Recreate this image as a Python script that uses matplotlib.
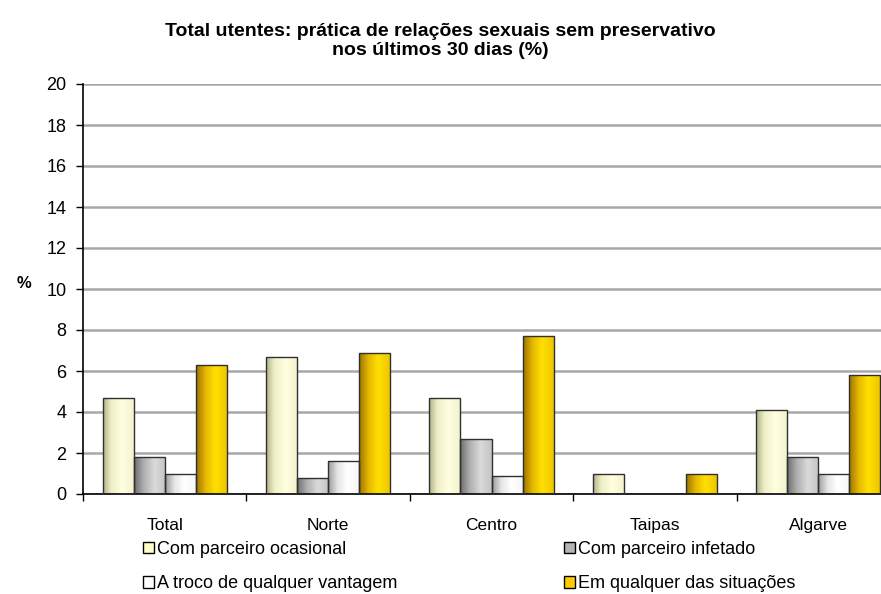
import matplotlib
matplotlib.use("Agg")
import matplotlib.pyplot as plt
import numpy as np
from matplotlib.colors import LinearSegmentedColormap
from matplotlib.patches import Patch

plt.rcParams['font.family'] = ['Liberation Sans', 'DejaVu Sans']

categories = ["Total", "Norte", "Centro", "Taipas", "Algarve"]
series_names = ["Com parceiro ocasional", "Com parceiro infetado",
                "A troco de qualquer vantagem", "Em qualquer das situações"]
ocasional = [4.7, 6.7, 4.7, 1.0, 4.1]
infetado = [1.8, 0.8, 2.7, 0.0, 1.8]
vantagem = [1.0, 1.6, 0.9, 0.0, 1.0]
situacoes = [6.3, 6.9, 7.7, 1.0, 5.8]
series_values = [ocasional, infetado, vantagem, situacoes]
y_ticks = [0, 2, 4, 6, 8, 10, 12, 14, 16, 18, 20]

legend_colors = ["#FFFFCC", "#B4B4B4", "#FFFFFF", "#FFCC00"]
gradients = [
    [(0, "#B0B08A"), (0.25, "#EEEEC6"), (0.6, "#FFFFE2"), (1, "#F2F2CE")],
    [(0, "#6E6E6E"), (0.3, "#AEAEAE"), (0.65, "#DADADA"), (1, "#C4C4C4")],
    [(0, "#9C9C9C"), (0.3, "#E6E6E6"), (0.6, "#FFFFFF"), (1, "#F6F6F6")],
    [(0, "#9C7400"), (0.3, "#E6B800"), (0.6, "#FFE000"), (1, "#EEC400")],
]

fig = plt.figure(figsize=(8.81, 5.94), dpi=100)
ax = fig.add_axes([83 / 881, 1 - 494 / 594, 817 / 881, 410 / 594])

n = len(categories)
x = np.arange(n)
bw = 0.19
offsets = (np.arange(4) - 1.5) * bw

ax.set_axisbelow(True)
ax.yaxis.grid(True, color="#A8A8A8", linewidth=1.8)

for i, vals in enumerate(series_values):
    bars = ax.bar(x + offsets[i], vals, width=bw, facecolor="none",
                  edgecolor="#303030", linewidth=1.0, zorder=3)
    cmap = LinearSegmentedColormap.from_list("g%d" % i, gradients[i])
    grad = np.linspace(0, 1, 64).reshape(1, -1)
    for p in bars.patches:
        h = p.get_height()
        if h <= 0:
            p.set_visible(False)
            continue
        x0 = p.get_x()
        w = p.get_width()
        im = ax.imshow(grad, cmap=cmap, extent=[x0, x0 + w, 0, h],
                       aspect="auto", zorder=2, interpolation="bilinear")
        im.set_clip_path(p)

ax.set_xlim(-0.5, n - 0.5)
ax.set_ylim(0, 20)
ax.set_yticks(y_ticks)
ax.set_yticklabels([str(t) for t in y_ticks], fontsize=13)
ax.set_xticks(np.arange(n + 1) - 0.5)
ax.set_xticklabels([])
ax.set_xticks(x, minor=True)
ax.set_xticklabels(categories, minor=True, fontsize=12.5)
ax.tick_params(axis="x", which="minor", length=0, pad=17)
ax.tick_params(axis="x", which="major", length=5, width=1, direction="out")
ax.tick_params(axis="y", length=5, width=1, direction="out", pad=7)
for s in ["top", "right"]:
    ax.spines[s].set_visible(False)
ax.spines["left"].set_linewidth(1.2)
ax.spines["bottom"].set_linewidth(1.2)

fig.text(24 / 881, 1 - 284 / 594, "%", fontsize=12, fontweight="bold",
         ha="center", va="center")

fig.suptitle("Total utentes: prática de relações sexuais sem preservativo\nnos últimos 30 dias (%)",
             x=0.5, y=1 - 23 / 594, fontsize=14, fontweight="bold", va="top",
             linespacing=1.15)

order = [0, 2, 1, 3]
handles = [Patch(facecolor=legend_colors[k], edgecolor="black", linewidth=1.0) for k in order]
labels = [series_names[k] for k in order]
fig.legend(handles, labels, ncol=2, loc="upper left",
           bbox_to_anchor=(143 / 881, 1 - 541 / 594), frameon=False,
           fontsize=13, handlelength=0.6, handleheight=0.6,
           handletextpad=0.2, columnspacing=9.2, labelspacing=0.95,
           borderpad=0, borderaxespad=0)

fig.savefig("out.png", dpi=100)
